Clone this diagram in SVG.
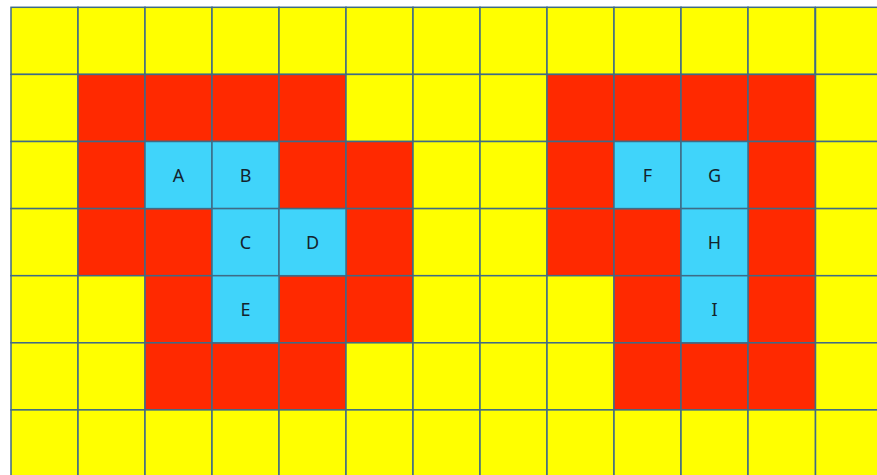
<svg xmlns="http://www.w3.org/2000/svg" width="877" height="475" viewBox="0 0 877 475">
<style>
rect{stroke:#3f6b86;stroke-width:1.5}
.y{fill:#ffff00}
.r{fill:#ff2900}
.b{fill:#40d4fa}
text{font-family:"Noto Sans","Liberation Sans",sans-serif;font-size:18px;fill:#14232c;text-anchor:middle;dominant-baseline:central}
</style>
<rect width="877" height="475" fill="#ffffff" style="stroke:none"/>
<g id="grid">
<!-- row 0 -->
<rect class="y" x="11" y="7.3" width="67" height="67.1"/>
<rect class="y" x="78" y="7.3" width="67" height="67.1"/>
<rect class="y" x="145" y="7.3" width="67" height="67.1"/>
<rect class="y" x="212" y="7.3" width="67" height="67.1"/>
<rect class="y" x="279" y="7.3" width="67" height="67.1"/>
<rect class="y" x="346" y="7.3" width="67" height="67.1"/>
<rect class="y" x="413" y="7.3" width="67" height="67.1"/>
<rect class="y" x="480" y="7.3" width="67" height="67.1"/>
<rect class="y" x="547" y="7.3" width="67" height="67.1"/>
<rect class="y" x="614" y="7.3" width="67" height="67.1"/>
<rect class="y" x="681" y="7.3" width="67" height="67.1"/>
<rect class="y" x="748" y="7.3" width="67" height="67.1"/>
<rect class="y" x="815.5" y="7.3" width="67" height="67.1"/>
<!-- row 1 -->
<rect class="y" x="11" y="74.4" width="67" height="67.1"/>
<rect class="r" x="78" y="74.4" width="67" height="67.1"/>
<rect class="r" x="145" y="74.4" width="67" height="67.1"/>
<rect class="r" x="212" y="74.4" width="67" height="67.1"/>
<rect class="r" x="279" y="74.4" width="67" height="67.1"/>
<rect class="y" x="346" y="74.4" width="67" height="67.1"/>
<rect class="y" x="413" y="74.4" width="67" height="67.1"/>
<rect class="y" x="480" y="74.4" width="67" height="67.1"/>
<rect class="r" x="547" y="74.4" width="67" height="67.1"/>
<rect class="r" x="614" y="74.4" width="67" height="67.1"/>
<rect class="r" x="681" y="74.4" width="67" height="67.1"/>
<rect class="r" x="748" y="74.4" width="67.5" height="67.1"/>
<rect class="y" x="815.5" y="74.4" width="67" height="67.1"/>
<!-- row 2 -->
<rect class="y" x="11" y="141.5" width="67" height="67.1"/>
<rect class="r" x="78" y="141.5" width="67" height="67.1"/>
<rect class="r" x="279" y="141.5" width="67" height="67.1"/>
<rect class="r" x="346" y="141.5" width="67" height="67.1"/>
<rect class="y" x="413" y="141.5" width="67" height="67.1"/>
<rect class="y" x="480" y="141.5" width="67" height="67.1"/>
<rect class="r" x="547" y="141.5" width="67" height="67.1"/>
<rect class="r" x="748" y="141.5" width="67.5" height="67.1"/>
<rect class="y" x="815.5" y="141.5" width="67" height="67.1"/>
<!-- row 3 -->
<rect class="y" x="11" y="208.6" width="67" height="67.1"/>
<rect class="r" x="78" y="208.6" width="67" height="67.1"/>
<rect class="r" x="145" y="208.6" width="67" height="67.1"/>
<rect class="r" x="346" y="208.6" width="67" height="67.1"/>
<rect class="y" x="413" y="208.6" width="67" height="67.1"/>
<rect class="y" x="480" y="208.6" width="67" height="67.1"/>
<rect class="r" x="547" y="208.6" width="67" height="67.1"/>
<rect class="r" x="614" y="208.6" width="67" height="67.1"/>
<rect class="r" x="748" y="208.6" width="67.5" height="67.1"/>
<rect class="y" x="815.5" y="208.6" width="67" height="67.1"/>
<!-- row 4 -->
<rect class="y" x="11" y="275.7" width="67" height="67.1"/>
<rect class="y" x="78" y="275.7" width="67" height="67.1"/>
<rect class="r" x="145" y="275.7" width="67" height="67.1"/>
<rect class="r" x="279" y="275.7" width="67" height="67.1"/>
<rect class="r" x="346" y="275.7" width="67" height="67.1"/>
<rect class="y" x="413" y="275.7" width="67" height="67.1"/>
<rect class="y" x="480" y="275.7" width="67" height="67.1"/>
<rect class="y" x="547" y="275.7" width="67" height="67.1"/>
<rect class="r" x="614" y="275.7" width="67" height="67.1"/>
<rect class="r" x="748" y="275.7" width="67.5" height="67.1"/>
<rect class="y" x="815.5" y="275.7" width="67" height="67.1"/>
<!-- row 5 -->
<rect class="y" x="11" y="342.8" width="67" height="67.1"/>
<rect class="y" x="78" y="342.8" width="67" height="67.1"/>
<rect class="r" x="145" y="342.8" width="67" height="67.1"/>
<rect class="r" x="212" y="342.8" width="67" height="67.1"/>
<rect class="r" x="279" y="342.8" width="67" height="67.1"/>
<rect class="y" x="346" y="342.8" width="67" height="67.1"/>
<rect class="y" x="413" y="342.8" width="67" height="67.1"/>
<rect class="y" x="480" y="342.8" width="67" height="67.1"/>
<rect class="y" x="547" y="342.8" width="67" height="67.1"/>
<rect class="r" x="614" y="342.8" width="67" height="67.1"/>
<rect class="r" x="681" y="342.8" width="67" height="67.1"/>
<rect class="r" x="748" y="342.8" width="67.5" height="67.1"/>
<rect class="y" x="815.5" y="342.8" width="67" height="67.1"/>
<!-- row 6 -->
<rect class="y" x="11" y="409.9" width="67" height="67.1"/>
<rect class="y" x="78" y="409.9" width="67" height="67.1"/>
<rect class="y" x="145" y="409.9" width="67" height="67.1"/>
<rect class="y" x="212" y="409.9" width="67" height="67.1"/>
<rect class="y" x="279" y="409.9" width="67" height="67.1"/>
<rect class="y" x="346" y="409.9" width="67" height="67.1"/>
<rect class="y" x="413" y="409.9" width="67" height="67.1"/>
<rect class="y" x="480" y="409.9" width="67" height="67.1"/>
<rect class="y" x="547" y="409.9" width="67" height="67.1"/>
<rect class="y" x="614" y="409.9" width="67" height="67.1"/>
<rect class="y" x="681" y="409.9" width="67" height="67.1"/>
<rect class="y" x="748" y="409.9" width="67.5" height="67.1"/>
<rect class="y" x="815.5" y="409.9" width="67" height="67.1"/>
</g>
<g id="node-A"><rect class="b" x="145" y="141.5" width="67" height="67.1"/><text x="178.5" y="175">A</text></g>
<g id="node-B"><rect class="b" x="212" y="141.5" width="67" height="67.1"/><text x="245.5" y="175">B</text></g>
<g id="node-C"><rect class="b" x="212" y="208.6" width="67" height="67.1"/><text x="245.5" y="242.1">C</text></g>
<g id="node-D"><rect class="b" x="279" y="208.6" width="67" height="67.1"/><text x="312.5" y="242.1">D</text></g>
<g id="node-E"><rect class="b" x="212" y="275.7" width="67" height="67.1"/><text x="245.5" y="309.2">E</text></g>
<g id="node-F"><rect class="b" x="614" y="141.5" width="67" height="67.1"/><text x="647.5" y="175">F</text></g>
<g id="node-G"><rect class="b" x="681" y="141.5" width="67" height="67.1"/><text x="714.5" y="175">G</text></g>
<g id="node-H"><rect class="b" x="681" y="208.6" width="67" height="67.1"/><text x="714.5" y="242.1">H</text></g>
<g id="node-I"><rect class="b" x="681" y="275.7" width="67" height="67.1"/><text x="714.5" y="309.2">I</text></g>
<g id="connectors"></g>
</svg>
